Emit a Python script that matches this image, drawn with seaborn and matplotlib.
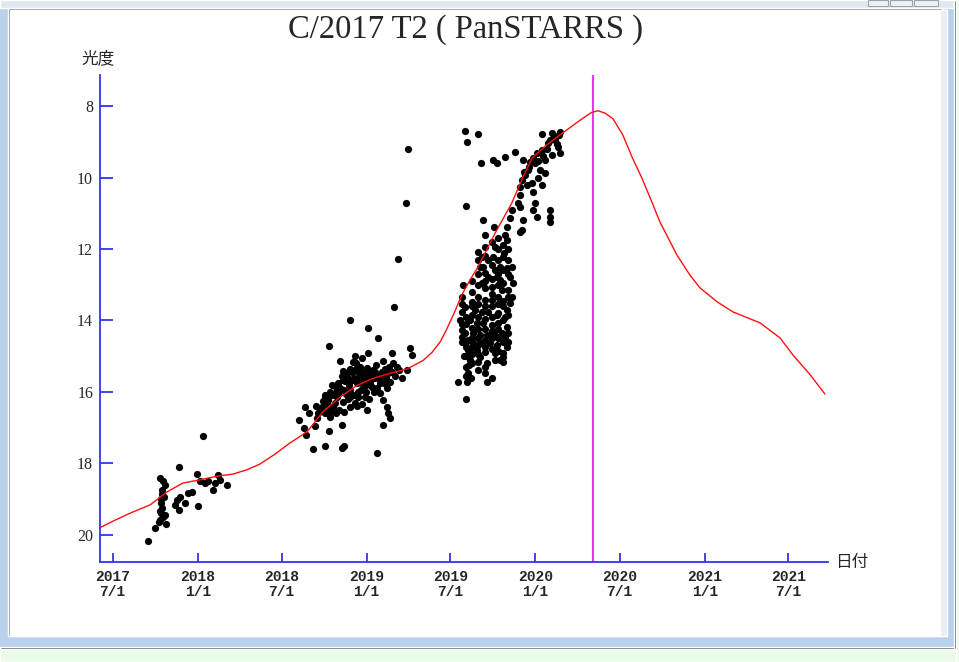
import pandas as pd
import numpy as np
import matplotlib
matplotlib.use("Agg")
import matplotlib.pyplot as plt
from matplotlib.patches import Rectangle
import seaborn as sns

# %% DATA (days counted from 2017-07-01, magnitudes)
EPOCH = "2017-07-01"
PERIHELION = "2020-05-04"

curve_day = [-28, 0, 40, 81, 117, 152, 189, 225, 260, 290, 318, 350, 383, 420, 455,
             492, 528, 563, 599, 636, 671, 690, 708, 722, 738, 755, 772, 790, 827,
             863, 885, 907, 935, 972, 1010, 1035, 1049, 1065, 1082, 1103, 1123, 1144,
             1166, 1183, 1201, 1220, 1248, 1270, 1307, 1341, 1400, 1443, 1471, 1508,
             1540]
curve_mag = [19.80, 19.62, 19.38, 19.16, 18.80, 18.55, 18.46, 18.36, 18.30, 18.18,
             18.02, 17.75, 17.43, 17.12, 16.55, 16.14, 15.82, 15.62, 15.48, 15.36,
             15.12, 14.90, 14.60, 14.25, 13.80, 13.28, 12.88, 12.50, 11.55, 10.71,
             10.05, 9.45, 9.12, 8.76, 8.40, 8.18, 8.13, 8.20, 8.36, 8.81, 9.43, 10.01,
             10.69, 11.24, 11.69, 12.17, 12.73, 13.09, 13.48, 13.76, 14.07, 14.49,
             14.97, 15.52, 16.06]

# 2017 - 2018 observations
obs1_day = [76, 91, 115, 102, 109, 113, 107, 106, 104, 106, 104, 109, 102, 143, 134,
            138, 146, 143, 157, 163, 171, 184, 182, 189, 195, 200, 206, 217, 221,
            228, 232, 248, 110, 105, 103, 112, 100]
obs1_mag = [20.16, 19.80, 19.69, 18.40, 18.50, 18.60, 18.74, 18.85, 19.10, 19.25,
            19.40, 19.50, 19.58, 18.10, 19.16, 19.02, 18.94, 19.30, 19.10, 18.83,
            18.80, 19.20, 18.30, 18.50, 17.22, 18.55, 18.50, 18.74, 18.55, 18.32,
            18.46, 18.60, 18.95, 19.00, 19.32, 19.45, 19.65]

# 2018 - 2019 observations
obs2_day = [609, 514, 551, 574, 468, 552, 524, 604, 643, 647, 492, 520, 585, 607, 498,
            550, 563, 539, 578, 600, 636, 474, 498, 517, 528, 556, 578, 600, 492, 514,
            541, 571, 593, 459, 485, 520, 545, 578, 466, 498, 453, 477, 514, 550, 585,
            416, 444, 470, 441, 593, 596, 600, 585, 403, 414, 418, 438, 496, 468, 433,
            459, 496, 500, 571, 639, 635, 617,
            505, 530, 560, 590, 610, 620, 535, 545, 510, 485, 470, 455, 440, 425, 480,
            530, 560, 615, 625, 588, 570, 525, 540, 505, 490,
            460, 463, 475, 482, 488, 495, 502, 508, 512, 518, 522, 527, 533, 538, 543,
            548, 553, 558, 565, 568, 575, 582, 586, 592, 597, 603, 480, 490, 500, 508,
            512, 523, 530, 536, 547, 555, 565, 467, 473, 483, 500, 528, 540, 448, 458]
obs2_mag = [13.62, 13.99, 14.20, 14.49, 14.71, 14.90, 14.99, 14.91, 14.77, 14.96,
            15.13, 15.16, 15.13, 15.19, 15.41, 15.33, 15.38, 15.52, 15.52, 15.44,
            15.38, 15.80, 15.66, 15.66, 15.75, 15.72, 15.75, 15.72, 15.89, 15.94,
            15.89, 15.89, 15.89, 16.08, 16.14, 16.08, 16.14, 16.03, 16.22, 16.28,
            16.42, 16.42, 16.42, 16.50, 16.22, 16.42, 16.59, 16.70, 16.73, 16.42,
            16.59, 16.73, 16.92, 16.78, 17.00, 17.20, 16.95, 16.92, 17.09, 17.60,
            17.51, 17.57, 17.51, 17.71, 9.20, 10.70, 12.28,
            15.50, 15.45, 15.55, 15.60, 15.55, 15.40, 15.30, 15.60, 15.80, 15.95,
            16.00, 16.25, 16.40, 16.60, 16.30, 16.00, 15.85, 15.30, 15.60, 15.35,
            15.25, 15.20, 15.05, 16.05, 16.50,
            16.15, 16.35, 16.10, 15.85, 15.75, 15.55, 15.70, 15.60, 15.35, 15.45,
            15.60, 15.35, 15.60, 15.75, 15.45, 15.80, 15.50, 15.65, 15.60, 15.45,
            15.65, 15.45, 15.75, 15.50, 15.30, 15.45, 16.05, 16.00, 15.95, 16.20,
            16.15, 16.30, 16.15, 15.95, 16.00, 16.20, 16.00, 16.45, 16.55, 16.60,
            16.55, 16.40, 16.35, 16.50, 16.60]

# 2019 - 2020 observations
obs3_day = [762, 767, 790, 764, 797, 823, 831, 848, 870, 887, 928, 950, 967, 957, 963,
            967, 941, 928, 917, 909, 902, 913, 935, 950, 924, 898, 891, 885, 881, 896,
            907, 920, 935, 928, 909, 913, 909, 917, 946, 946, 946, 881, 881, 887, 885,
            876, 864, 859, 853, 848, 844, 846, 825, 801, 804, 833, 853, 844, 855, 853,
            864, 859, 866, 855, 864, 859, 853, 848, 853, 848, 853, 844, 827, 809, 790,
            773, 768, 768, 746, 767, 809, 820, 764, 758, 755, 762, 751, 755, 790, 799,
            795, 805, 799, 812, 820, 827, 831, 838, 842, 833, 820, 805, 790, 777, 784,
            799, 812, 831, 773, 788, 801, 820, 833, 762, 779, 795, 809, 827, 842, 779,
            799, 816, 831, 788, 805, 827, 838, 795, 768, 805, 805, 827, 823, 833, 838,
            812, 801, 881,
            955, 945, 960, 930, 920, 940, 965, 900, 890, 760, 770, 775,
            755, 755, 755, 755, 755,
            764, 764, 764, 764, 764, 764, 764,
            777, 777, 777, 777, 777, 777, 777, 777, 777,
            790, 790, 790, 790, 790, 790, 790, 790, 790, 790,
            805, 805, 805, 805, 805, 805, 805, 805, 805,
            820, 820, 820, 820, 820, 820, 820, 820, 820,
            833, 833, 833, 833, 833, 833, 833, 833,
            844, 844, 844, 844, 844, 844, 844, 844,
            855, 855, 855, 855, 855, 855]
obs3_mag = [8.69, 9.00, 8.78, 10.80, 9.59, 9.51, 9.59, 9.43, 9.29, 9.51, 8.78, 8.76,
            8.73, 8.95, 9.15, 9.31, 9.04, 9.23, 9.31, 9.45, 9.57, 9.59, 9.51, 9.37,
            9.79, 9.79, 9.93, 10.07, 10.27, 10.21, 10.15, 10.01, 9.87, 10.21, 10.41,
            10.71, 10.91, 11.10, 10.91, 11.10, 11.24, 10.49, 10.83, 11.19, 11.47,
            10.71, 10.91, 11.13, 11.38, 11.61, 11.89, 12.11, 11.38, 11.19, 11.61,
            11.69, 11.75, 12.22, 12.31, 12.53, 12.50, 12.78, 12.95, 13.15, 13.34,
            13.51, 13.71, 13.90, 14.18, 14.46, 14.74, 15.02, 15.10, 15.19, 15.38,
            15.10, 14.82, 14.55, 15.72, 15.72, 15.72, 15.61, 16.20, 13.00, 13.34,
            13.62, 13.99, 14.27, 12.08, 12.22, 12.50, 12.67, 12.95, 12.78, 13.06,
            12.59, 12.78, 12.87, 13.15, 13.34, 13.43, 13.43, 13.34, 13.48, 13.71,
            13.76, 13.76, 13.85, 13.99, 14.07, 14.07, 14.13, 14.07, 14.35, 14.35,
            14.41, 14.41, 14.41, 14.35, 14.63, 14.63, 14.63, 14.69, 14.82, 14.88,
            14.91, 15.10, 15.02, 15.47, 15.47, 11.94, 11.94, 12.22, 12.31, 12.50,
            12.31, 12.50, 11.52,
            8.85, 8.95, 9.05, 9.40, 9.55, 9.20, 8.80, 9.70, 9.85, 15.00, 15.25, 15.60,
            13.55, 13.75, 14.10, 14.45, 14.60,
            13.90, 14.10, 14.60, 14.75, 15.00, 15.30, 15.55,
            12.90, 13.20, 13.60, 13.85, 14.20, 14.50, 14.75, 14.95, 15.20,
            12.30, 12.70, 13.00, 13.55, 13.90, 14.25, 14.50, 14.70, 14.95, 15.15,
            12.20, 12.90, 13.10, 13.60, 13.95, 14.25, 14.55, 14.75, 15.30,
            11.80, 12.45, 12.85, 13.25, 13.60, 13.90, 14.30, 14.50, 14.80,
            12.00, 12.70, 13.00, 13.55, 13.80, 14.25, 14.50, 14.85,
            12.60, 12.95, 13.45, 13.60, 14.00, 14.60, 14.90, 15.15,
            12.00, 12.70, 13.35, 13.85, 14.35, 14.60]

tick_dates = ["2017-07-01", "2018-01-01", "2018-07-01", "2019-01-01", "2019-07-01",
              "2020-01-01", "2020-07-01", "2021-01-01", "2021-07-01"]
tick_labels = ["2017\n7/1", "2018\n1/1", "2018\n7/1", "2019\n1/1", "2019\n7/1",
               "2020\n1/1", "2020\n7/1", "2021\n1/1", "2021\n7/1"]
mag_ticks = [8, 10, 12, 14, 16, 18, 20]

# %% BUILD TABLES
epoch = pd.Timestamp(EPOCH)
obs = pd.DataFrame({
    "day": obs1_day + obs2_day + obs3_day,
    "mag": obs1_mag + obs2_mag + obs3_mag,
})
obs["date"] = epoch + pd.to_timedelta(obs["day"], unit="D")
curve = pd.DataFrame({"day": curve_day, "mag": curve_mag})
curve["date"] = epoch + pd.to_timedelta(curve["day"], unit="D")

# %% FIGURE
sns.set_style("white")
plt.rcParams["font.family"] = ["Liberation Serif", "Noto Sans CJK JP", "DejaVu Sans"]

W, H = 959, 662
fig = plt.figure(figsize=(W / 100, H / 100), dpi=100)
fig.patch.set_facecolor("#b9d1ea")


def px_rect(x0, y0, x1, y1, color, **kw):
    # rectangle given in screen pixels (origin top-left)
    fig.patches.append(Rectangle((x0 / W, 1 - y1 / H), (x1 - x0) / W, (y1 - y0) / H,
                                 transform=fig.transFigure, facecolor=color,
                                 zorder=-10, **kw))


# window frame look
px_rect(0, 0, 959, 8, "#dfe7f0")
for bx0, bx1 in [(868, 888), (890, 912), (914, 938)]:
    px_rect(bx0, 0, bx1, 6, "#eef2f6", edgecolor="#9aa4ae", linewidth=0.8)
px_rect(8, 8, 942, 636, "#7f7f7f")
px_rect(10, 10, 940, 636, "white")
px_rect(940, 10, 947, 636, "#e9eef4")
px_rect(0, 647, 956, 649, "#1e1e1e")
px_rect(954, 0, 956, 649, "#1e1e1e")
px_rect(0, 649, 959, 662, "#ebfbea")
px_rect(956, 0, 959, 662, "#ebfbea")

ax = fig.add_axes([100 / W, 1 - 562 / H, 728 / W, 487 / H])
ax.set_facecolor("white")

sns.scatterplot(data=obs, x="date", y="mag", color="black", s=27, linewidth=0,
                marker="o", ax=ax, zorder=2)
sns.lineplot(data=curve, x="date", y="mag", color="#ff1010", linewidth=1.0,
             sort=False, ax=ax, zorder=3)
ax.axvline(pd.Timestamp(PERIHELION), color="#ee33ee", linewidth=1.5, zorder=1)

ax.set_xlim(epoch + pd.Timedelta(days=-27.5), epoch + pd.Timedelta(days=1546.6))
ax.set_ylim(20.76, 7.13)

blue = "#3535ee"
for side in ["top", "right"]:
    ax.spines[side].set_visible(False)
for side in ["left", "bottom"]:
    ax.spines[side].set_color(blue)
    ax.spines[side].set_linewidth(1.3)

ax.set_yticks(mag_ticks)
ax.set_yticklabels([str(m) for m in mag_ticks], fontsize=11.5, family="Liberation Serif")
ax.set_xticks(pd.to_datetime(tick_dates))
ax.set_xticklabels(tick_labels, fontsize=10.5, family="Liberation Mono",
                   fontweight="bold", linespacing=1.05)
ax.tick_params(axis="y", direction="in", length=9.5, width=1.3, color=blue, pad=5,
               left=True)
ax.tick_params(axis="x", direction="in", length=6.5, width=1.3, color=blue, pad=6,
               bottom=True)
ax.set_xlabel("")
ax.set_ylabel("")

fig.text(465 / W, 1 - 30 / H, "C/2017 T2 ( PanSTARRS )", ha="center", va="center",
         fontsize=23.5, family="Liberation Serif")
fig.text(98 / W, 1 - 59 / H, "光度", ha="center", va="center", fontsize=12,
         family=["Noto Sans CJK JP", "DejaVu Sans"])
fig.text(835 / W, 1 - 562 / H, "日付", ha="left", va="center", fontsize=12,
         family=["Noto Sans CJK JP", "DejaVu Sans"])

fig.savefig("out.png", dpi=100, facecolor=fig.get_facecolor())
